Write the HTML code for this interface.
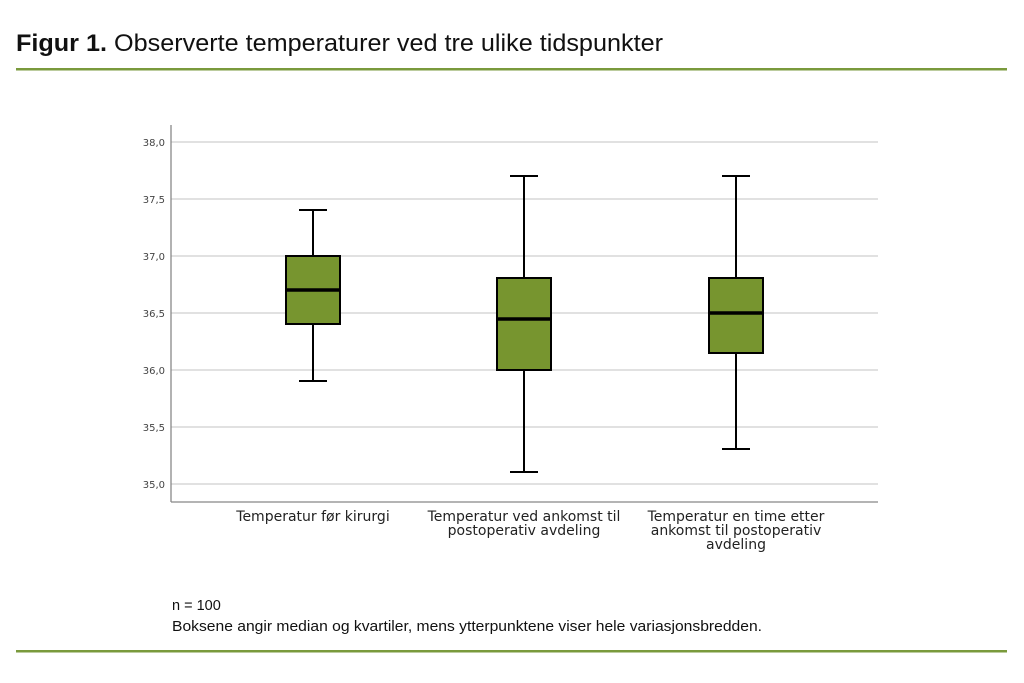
<!DOCTYPE html>
<html><head><meta charset="utf-8"><style>
body{margin:0;background:#fff;width:1024px;height:678px;overflow:hidden;font-family:"Liberation Sans",sans-serif}
</style></head><body>
<svg width="1024" height="678" xmlns="http://www.w3.org/2000/svg" font-family="Liberation Sans, sans-serif">
<text x="16" y="51" font-size="24" fill="#111" textLength="647" lengthAdjust="spacingAndGlyphs"><tspan font-weight="bold">Figur 1.</tspan> Observerte temperaturer ved tre ulike tidspunkter</text>
<rect x="16" y="68" width="991" height="2.5" fill="#7a9a3c"/>
<rect x="16" y="650" width="991" height="2.5" fill="#7a9a3c"/>
<g stroke="#cfcfcf" stroke-width="1.3">
<line x1="171" x2="878" y1="142" y2="142"/><line x1="171" x2="878" y1="199" y2="199"/>
<line x1="171" x2="878" y1="256" y2="256"/><line x1="171" x2="878" y1="313" y2="313"/>
<line x1="171" x2="878" y1="370" y2="370"/><line x1="171" x2="878" y1="427" y2="427"/>
<line x1="171" x2="878" y1="484" y2="484"/>
</g>
<g stroke="#888" stroke-width="1.3"><line x1="171" x2="171" y1="125" y2="502"/><line x1="171" x2="878" y1="502" y2="502"/></g>
<g font-size="10" fill="#444" text-anchor="end" font-family="DejaVu Sans, sans-serif">
<text x="165" y="146">38,0</text><text x="165" y="203">37,5</text><text x="165" y="260">37,0</text>
<text x="165" y="317">36,5</text><text x="165" y="374">36,0</text><text x="165" y="431">35,5</text><text x="165" y="488">35,0</text>
</g>
<g stroke="#000" stroke-width="2" fill="#77952f">
<line x1="313" x2="313" y1="210" y2="381"/><line x1="299" x2="327" y1="210" y2="210"/><line x1="299" x2="327" y1="381" y2="381"/>
<rect x="286" y="256" width="54" height="68"/><line x1="286" x2="340" y1="290" y2="290" stroke-width="3.5"/>
<line x1="524" x2="524" y1="176" y2="472"/><line x1="510" x2="538" y1="176" y2="176"/><line x1="510" x2="538" y1="472" y2="472"/>
<rect x="497" y="278" width="54" height="92"/><line x1="497" x2="551" y1="319" y2="319" stroke-width="3.5"/>
<line x1="736" x2="736" y1="176" y2="449"/><line x1="722" x2="750" y1="176" y2="176"/><line x1="722" x2="750" y1="449" y2="449"/>
<rect x="709" y="278" width="54" height="75"/><line x1="709" x2="763" y1="313" y2="313" stroke-width="3.5"/>
</g>
<g font-size="14" fill="#222" text-anchor="middle" font-family="DejaVu Sans, sans-serif">
<text x="313" y="521">Temperatur før kirurgi</text>
<text x="524" y="521">Temperatur ved ankomst til</text><text x="524" y="535">postoperativ avdeling</text>
<text x="736" y="521">Temperatur en time etter</text><text x="736" y="535">ankomst til postoperativ</text><text x="736" y="549">avdeling</text>
</g>
<g font-size="14.5" fill="#111">
<text x="172" y="610">n = 100</text>
<text x="172" y="631" textLength="590" lengthAdjust="spacingAndGlyphs">Boksene angir median og kvartiler, mens ytterpunktene viser hele variasjonsbredden.</text>
</g>
</svg>
</body></html>
